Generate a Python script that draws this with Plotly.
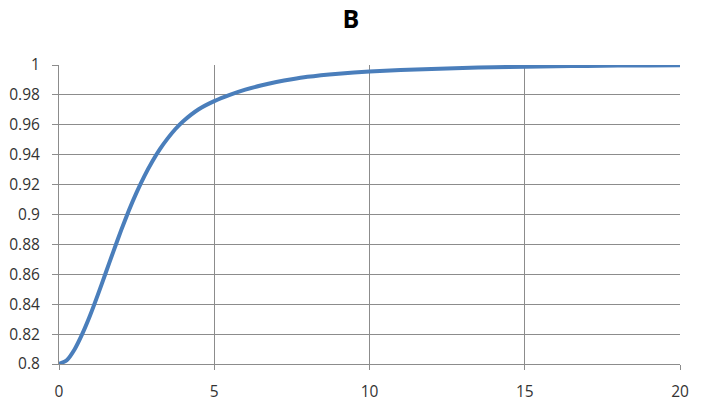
import plotly.graph_objects as go

# Data
x_vals = [0, 0.25, 0.5, 0.75, 1, 1.25, 1.5, 1.75, 2, 2.25, 2.5, 2.75, 3, 3.25, 3.5, 3.75,
          4, 4.5, 5, 5.5, 6, 6.5, 7, 7.5, 8, 9, 10, 11, 12, 13, 14, 15, 16, 17, 18, 19, 20]
y_vals = [0.8, 0.8025, 0.8097, 0.8201, 0.8324, 0.8462, 0.8607, 0.8752, 0.8894, 0.9027,
          0.9148, 0.9257, 0.9353, 0.9437, 0.9509, 0.9572, 0.9624, 0.9704, 0.9758, 0.9800,
          0.9835, 0.9863, 0.9886, 0.9905, 0.9921, 0.9942, 0.9956, 0.9966, 0.9974, 0.9980,
          0.9985, 0.9989, 0.9992, 0.9994, 0.9996, 0.9997, 0.9998]

y_ticks = [0.8, 0.82, 0.84, 0.86, 0.88, 0.9, 0.92, 0.94, 0.96, 0.98, 1]
y_tick_labels = ["0.8", "0.82", "0.84", "0.86", "0.88", "0.9", "0.92", "0.94", "0.96", "0.98", "1"]
x_ticks = [0, 5, 10, 15, 20]
x_tick_labels = ["0", "5", "10", "15", "20"]

title_text = "B"

grid_col = "#8c8c8c"
font_family = "Open Sans, Liberation Sans, sans-serif"

fig = go.Figure()
fig.add_trace(go.Scatter(
    x=x_vals, y=y_vals, mode="lines",
    line=dict(color="#4A7EBB", width=4, shape="spline", smoothing=0.5),
    showlegend=False, hoverinfo="skip",
))

fig.update_layout(
    width=701, height=407,
    margin=dict(l=59, r=21, t=65, b=43, autoexpand=False),
    paper_bgcolor="white", plot_bgcolor="white",
    title=dict(text="<b>" + title_text + "</b>", x=351 / 701, xanchor="center",
               y=1 - 19 / 407, yanchor="middle",
               font=dict(family=font_family, size=25, color="#000000")),
    font=dict(family=font_family, size=15, color="#333333"),
)
fig.update_xaxes(
    range=[0, 20], tickvals=x_ticks, ticktext=x_tick_labels,
    showgrid=True, gridcolor=grid_col, gridwidth=1,
    showline=True, linecolor=grid_col, linewidth=1,
    ticks="outside", ticklen=5, tickcolor=grid_col,
    ticklabelstandoff=8, automargin=False,
    zeroline=False, fixedrange=True,
    tickfont=dict(size=15.5, color="#333333"),
)
fig.update_yaxes(
    range=[0.8, 1], tickvals=y_ticks, ticktext=y_tick_labels,
    showgrid=True, gridcolor=grid_col, gridwidth=1,
    showline=True, linecolor=grid_col, linewidth=1,
    ticks="outside", ticklen=6, tickcolor=grid_col,
    ticklabelstandoff=9, automargin=False,
    zeroline=False, fixedrange=True,
    tickfont=dict(size=15.5, color="#333333"),
)

fig.write_html("out.html",
               config={"displayModeBar": False, "staticPlot": True},
               post_script="document.body.style.margin='0';document.body.style.overflow='hidden';")
